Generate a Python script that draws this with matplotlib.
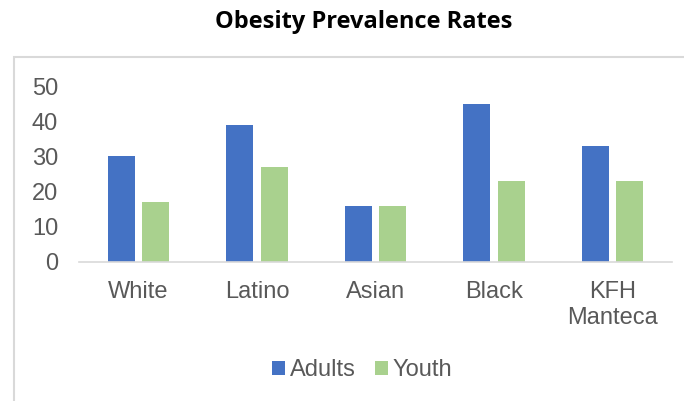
import numpy as np
import matplotlib.pyplot as plt
from matplotlib.patches import Rectangle

groups = ['White', 'Latino', 'Asian', 'Black', 'KFH\nManteca']
adults = [30, 39, 16, 45, 33]
youth = [17, 27, 16, 23, 23]

W, H = 684, 401
fig = plt.figure(figsize=(W / 100, H / 100), dpi=100)
plt.rcParams['font.family'] = ['Liberation Sans', 'DejaVu Sans']

# light border around the chart area (runs off the right and bottom edges)
fig.patches.append(Rectangle((14 / W, -0.1), 1.2, 1.1 - 57 / H, transform=fig.transFigure,
                             fill=False, edgecolor='#d9d9d9', linewidth=1.5))

ax = fig.add_axes([79 / W, 1 - 262 / H, (672 - 79) / W, (262 - 86) / H])
x = np.arange(len(groups))
w = 0.228
ax.bar(x - 0.145, adults, w, color='#4472C4', label='Adults')
ax.bar(x + 0.145, youth, w, color='#A9D18E', label='Youth')

ax.set_xlim(-0.5, len(groups) - 0.5)
ax.set_ylim(0, 50)
ax.set_yticks(range(0, 51, 10))
ax.set_xticks(x)
ax.set_xticklabels(groups, linespacing=1.2)
for s in ['top', 'right', 'left']:
    ax.spines[s].set_visible(False)
ax.spines['bottom'].set_color('#d9d9d9')
ax.spines['bottom'].set_linewidth(1.2)
ax.tick_params(length=0, labelsize=17, colors='#595959')
ax.tick_params(axis='x', pad=14)
ax.tick_params(axis='y', pad=15)

fig.text(364 / W, 1 - 22 / H, 'Obesity Prevalence Rates', ha='center', va='center',
         fontsize=17, fontweight='bold', family=['Open Sans', 'DejaVu Sans'])

fig.legend(loc='center', bbox_to_anchor=(362 / W, 1 - 370 / H), ncol=2, frameon=False,
           fontsize=17, labelcolor='#595959', handlelength=0.55, handleheight=0.55,
           handletextpad=0.2, columnspacing=0.8)

fig.savefig('out.png', dpi=100)
